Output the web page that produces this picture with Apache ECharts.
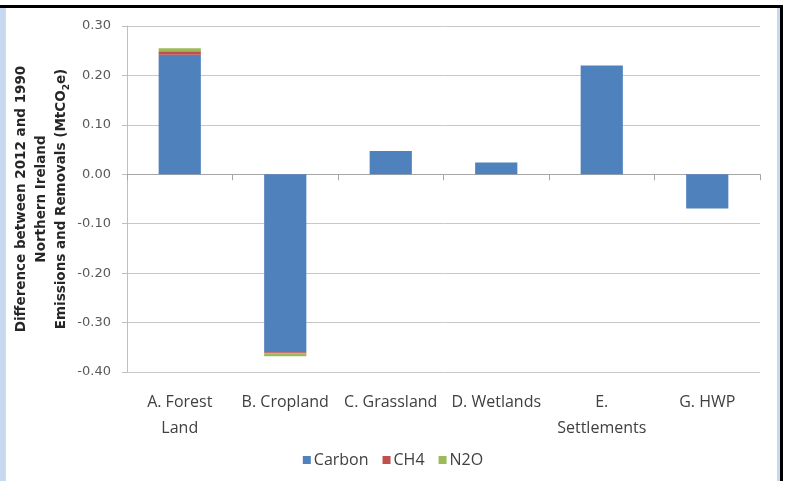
<!DOCTYPE html>
<html>
<head>
<meta charset="utf-8">
<script src="https://cdn.jsdelivr.net/npm/echarts@6/dist/echarts.min.js"></script>
<style>
html,body{margin:0;padding:0;background:#fff;}
#c{width:786px;height:481px;}
</style>
</head>
<body>
<div id="c"></div>
<script>
const categories = ['A. Forest\nLand', 'B. Cropland', 'C. Grassland', 'D. Wetlands', 'E.\nSettlements', 'G. HWP'];
const carbon = [0.242, -0.360, 0.047, 0.024, 0.220, -0.069];
const ch4 = [0.007, -0.002, 0, 0, 0, 0];
const n2o = [0.006, -0.006, 0, 0, 0, 0];
const yTicks = { min: -0.4, max: 0.3, interval: 0.1 };

const chart = echarts.init(document.getElementById('c'));
const font = '"Open Sans", sans-serif';
const wide = '"DejaVu Sans", sans-serif';
chart.setOption({
  animation: false,
  backgroundColor: '#fff',
  textStyle: { fontFamily: font },
  grid: { left: 127, right: 26, top: 26, bottom: 109, containLabel: false },
  legend: {
    top: 447,
    left: 'center',
    itemWidth: 8,
    itemHeight: 8,
    itemGap: 14,
    icon: 'rect',
    textStyle: { fontSize: 16, color: '#404040', fontFamily: font, padding: [0, 0, 0, -2] },
    data: ['Carbon', 'CH4', 'N2O']
  },
  xAxis: {
    type: 'category',
    data: categories,
    axisLine: { onZero: true, lineStyle: { color: '#a6a6a6', width: 1 } },
    axisTick: { show: true, length: 6, lineStyle: { color: '#a6a6a6' } },
    axisLabel: {
      interval: 0,
      fontSize: 16, color: '#404040', fontFamily: font, lineHeight: 26,
      margin: 17
    },
    splitLine: { show: false }
  },
  yAxis: {
    type: 'value',
    min: yTicks.min, max: yTicks.max, interval: yTicks.interval,
    axisLine: { show: true, lineStyle: { color: '#bfbfbf' } },
    axisTick: { show: true, length: 5, lineStyle: { color: '#bfbfbf' } },
    axisLabel: { fontSize: 13, color: '#595959', formatter: v => v.toFixed(2), margin: 16, fontFamily: wide },
    splitLine: { lineStyle: { color: '#c8c8c8', width: 1 } },
    name: '{b|Difference between 2012 and 1990}\n{b|Northern Ireland}\n{b|Emissions and Removals (MtCO}{s|2}{b|e)}',
    nameLocation: 'middle',
    nameGap: 56,
    nameMoveOverlap: false,
    nameTextStyle: {
      align: 'center',
      rich: {
        b: { fontSize: 13.5, fontWeight: 'bold', color: '#262626', lineHeight: 20, fontFamily: wide },
        s: { fontSize: 9, fontWeight: 'bold', color: '#262626', lineHeight: 20, verticalAlign: 'bottom', padding: [6, 0, 0, 0], fontFamily: wide }
      }
    }
  },
  series: [
    { name: 'Carbon', type: 'bar', stack: 'tot', data: carbon, barWidth: '40%', itemStyle: { color: '#4f81bd' } },
    { name: 'CH4', type: 'bar', stack: 'tot', data: ch4, itemStyle: { color: '#c0504d' } },
    { name: 'N2O', type: 'bar', stack: 'tot', data: n2o, itemStyle: { color: '#9bbb59' } }
  ],
  graphic: [
    { type: 'rect', shape: { x: 0, y: 5, width: 783, height: 3 }, style: { fill: '#000' } },
    { type: 'rect', shape: { x: 0, y: 8, width: 5, height: 473 }, style: { fill: '#c6d9f0' } },
    { type: 'rect', shape: { x: 5, y: 8, width: 1, height: 473 }, style: { fill: '#d9d9d9' } },
    { type: 'rect', shape: { x: 777, y: 8, width: 3, height: 473 }, style: { fill: '#c6d9f0' } },
    { type: 'rect', shape: { x: 780, y: 5, width: 3, height: 476 }, style: { fill: '#000' } }
  ]
});
</script>
</body>
</html>
